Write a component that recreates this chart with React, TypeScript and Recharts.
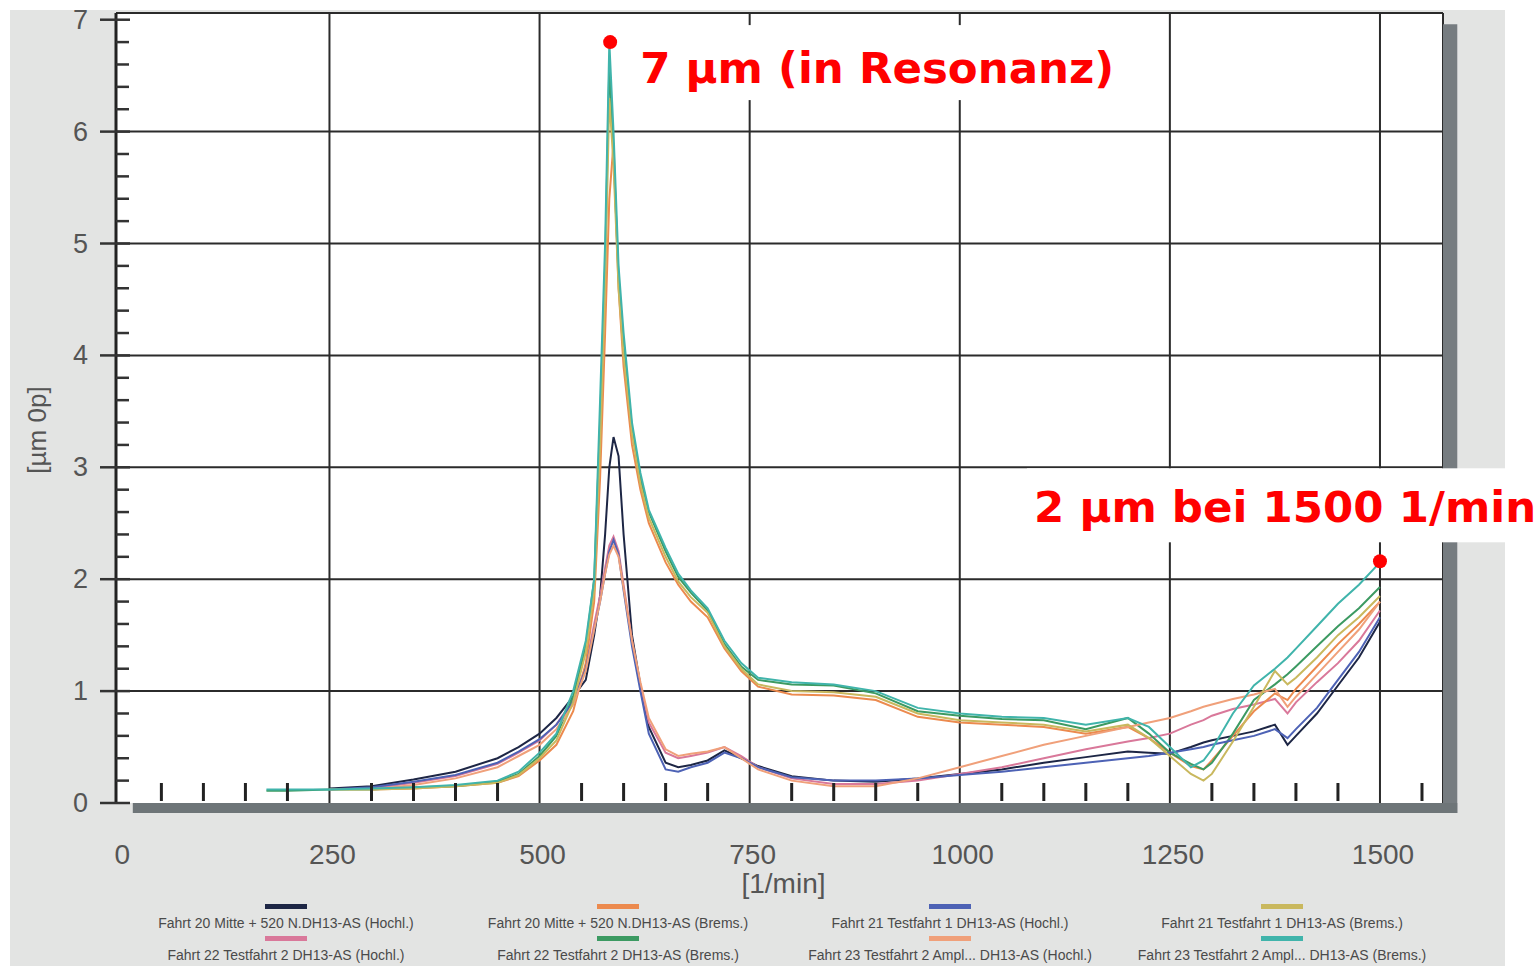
import React from 'react';
import {
  LineChart,
  Line,
  XAxis,
  YAxis,
  CartesianGrid,
  ReferenceArea,
  ReferenceDot,
  Legend,
  Label,
} from 'recharts';

// speed grid [1/min] shared by all runs
const rpm = [
  175, 200, 250, 300, 350, 400, 450, 475, 500, 520, 540, 555, 565, 572, 578, 583, 588, 594, 600, 610,
  620, 630, 650, 665, 680, 700, 720, 740, 760, 800, 850, 900, 950, 1000, 1050, 1100, 1150, 1200, 1225, 1250,
  1275, 1290, 1300, 1325, 1350, 1375, 1390, 1400, 1425, 1450, 1475, 1500,
];

// amplitudes [µm 0p]
const f20Hochl = [
  null, null, 0.13, 0.15, 0.21, 0.28, 0.4, 0.5, 0.62, 0.76, 0.95, 1.1, 1.5, 1.85, 2.4, 3.0, 3.27, 3.1, 2.4, 1.5,
  1.05, 0.68, 0.36, 0.32, 0.34, 0.38, 0.47, 0.4, 0.33, 0.24, 0.2, 0.19, 0.22, 0.26, 0.3, 0.36, 0.41, 0.46, 0.45, 0.44,
  0.5, 0.54, 0.56, 0.6, 0.64, 0.7, 0.52, 0.6, 0.8, 1.05, 1.3, 1.62,
];
const f22Hochl = [
  null, null, null, 0.13, 0.18, 0.24, 0.35, 0.45, 0.56, 0.7, 0.92, 1.22, 1.6, 1.85, 2.1, 2.3, 2.38, 2.25, 1.95, 1.45,
  1.05, 0.72, 0.45, 0.4, 0.42, 0.45, 0.5, 0.42, 0.32, 0.22, 0.17, 0.17, 0.2, 0.26, 0.32, 0.4, 0.48, 0.55, 0.58, 0.62,
  0.7, 0.74, 0.78, 0.84, 0.88, 0.93, 0.8, 0.9, 1.08, 1.25, 1.45, 1.72,
];
const f20Brems = [
  null, null, null, 0.12, 0.13, 0.15, 0.18, 0.24, 0.38, 0.52, 0.82, 1.25, 1.8, 2.9, 4.2, 5.4, 5.9, 4.6, 3.9, 3.2,
  2.8, 2.5, 2.15, 1.95, 1.8, 1.66, 1.38, 1.18, 1.04, 0.97, 0.96, 0.92, 0.77, 0.72, 0.7, 0.68, 0.62, 0.68, 0.58, 0.45,
  0.33, 0.3, 0.38, 0.6, 0.82, 0.98, 0.92, 1.02, 1.22, 1.42, 1.6, 1.8,
];
const f22Brems = [
  0.11, 0.11, 0.12, 0.12, 0.14, 0.15, 0.19, 0.26, 0.42, 0.6, 0.95, 1.4, 2.0, 3.4, 4.8, 6.6, 5.8, 4.7, 4.1, 3.35,
  2.9, 2.6, 2.25, 2.02, 1.88, 1.72, 1.42, 1.22, 1.1, 1.06, 1.05, 0.98, 0.82, 0.78, 0.75, 0.74, 0.66, 0.76, 0.62, 0.45,
  0.35, 0.3, 0.36, 0.62, 0.92, 1.06, 1.15, 1.22, 1.4, 1.58, 1.74, 1.93,
];
const f21Hochl = [
  null, null, 0.12, 0.14, 0.19, 0.25, 0.36, 0.46, 0.57, 0.7, 0.9, 1.2, 1.55, 1.8, 2.05, 2.25, 2.35, 2.22, 1.9, 1.4,
  1.0, 0.62, 0.3, 0.28, 0.32, 0.36, 0.45, 0.4, 0.32, 0.23, 0.2, 0.2, 0.22, 0.25, 0.28, 0.32, 0.36, 0.4, 0.42, 0.45,
  0.48, 0.5, 0.52, 0.56, 0.6, 0.66, 0.58, 0.66, 0.85, 1.1, 1.35, 1.66,
];
const f23Hochl = [
  null, null, null, 0.12, 0.16, 0.22, 0.32, 0.42, 0.52, 0.66, 0.88, 1.18, 1.55, 1.8, 2.05, 2.22, 2.3, 2.2, 1.92, 1.45,
  1.08, 0.76, 0.48, 0.42, 0.44, 0.46, 0.5, 0.4, 0.3, 0.2, 0.15, 0.15, 0.22, 0.32, 0.42, 0.52, 0.6, 0.68, 0.72, 0.76,
  0.82, 0.86, 0.88, 0.93, 0.97, 1.02, 0.86, 0.95, 1.15, 1.35, 1.55, 1.8,
];
const f21Brems = [
  null, null, 0.12, 0.12, 0.13, 0.15, 0.18, 0.25, 0.4, 0.56, 0.9, 1.35, 1.9, 3.2, 4.6, 6.3, 5.7, 4.6, 4.0, 3.3,
  2.85, 2.55, 2.2, 1.98, 1.84, 1.7, 1.4, 1.2, 1.06, 1.0, 0.99, 0.95, 0.8, 0.74, 0.72, 0.7, 0.64, 0.7, 0.58, 0.42,
  0.26, 0.2, 0.26, 0.55, 0.86, 1.18, 1.06, 1.12, 1.3, 1.5, 1.66, 1.85,
];
const f23Brems = [
  0.12, 0.12, 0.12, 0.13, 0.14, 0.16, 0.2, 0.28, 0.45, 0.62, 1.0, 1.45, 2.0, 3.6, 5.0, 6.8, 6.0, 4.8, 4.2, 3.4,
  2.95, 2.62, 2.28, 2.05, 1.9, 1.74, 1.45, 1.25, 1.12, 1.08, 1.06, 1.0, 0.85, 0.8, 0.77, 0.76, 0.7, 0.76, 0.68, 0.5,
  0.32, 0.38, 0.48, 0.8, 1.05, 1.2, 1.3, 1.38, 1.58, 1.78, 1.95, 2.15,
];

// legend order: column by column, two rows
const series = [
  { key: 'f20h', name: 'Fahrt 20  Mitte + 520 N.DH13-AS (Hochl.)', values: f20Hochl, color: '#1d2645' },
  { key: 'f22h', name: 'Fahrt 22 Testfahrt 2 DH13-AS (Hochl.)', values: f22Hochl, color: '#d9789a' },
  { key: 'f20b', name: 'Fahrt 20  Mitte + 520 N.DH13-AS (Brems.)', values: f20Brems, color: '#ec8a4e' },
  { key: 'f22b', name: 'Fahrt 22 Testfahrt 2 DH13-AS (Brems.)', values: f22Brems, color: '#3c9a62' },
  { key: 'f21h', name: 'Fahrt 21 Testfahrt 1 DH13-AS (Hochl.)', values: f21Hochl, color: '#4d62b5' },
  { key: 'f23h', name: 'Fahrt 23 Testfahrt 2  Ampl... DH13-AS (Hochl.)', values: f23Hochl, color: '#f0a07a' },
  { key: 'f21b', name: 'Fahrt 21 Testfahrt 1 DH13-AS (Brems.)', values: f21Brems, color: '#c9b85e' },
  { key: 'f23b', name: 'Fahrt 23 Testfahrt 2  Ampl... DH13-AS (Brems.)', values: f23Brems, color: '#40b4ab' },
];

const xMajor = [0, 250, 500, 750, 1000, 1250, 1500];
const yMajor = [0, 1, 2, 3, 4, 5, 6, 7];
const resonance = { rpm: 584, amp: 6.8, text: '7 µm (in Resonanz)' };
const endPoint = { rpm: 1500, amp: 2.16, text: '2 µm bei 1500 1/min' };

const rows = rpm.map((r, i) => {
  const row: Record<string, number | null> = { rpm: r };
  series.forEach((s) => (row[s.key] = s.values[i]));
  return row;
});

// minor ticks every 50 1/min and every 0.2 µm
const xTicks = Array.from({ length: 32 }, (_, i) => i * 50);
const yTicks = Array.from({ length: 36 }, (_, i) => Math.round(i * 2) / 10);

const tickFont = '"Liberation Sans", Arial, sans-serif';

const XTick = (props: any) => {
  const { x, y, payload } = props;
  const v = payload.value;
  if (xMajor.includes(v)) {
    return (
      <text x={x + 3} y={y + 61} textAnchor="middle" fontSize={28} fill="#555" fontFamily={tickFont}>
        {v}
      </text>
    );
  }
  return <line x1={x} x2={x} y1={y - 20} y2={y - 2} stroke="#222" strokeWidth={3} />;
};

const YTick = (props: any) => {
  const { x, y, payload } = props;
  const v = payload.value;
  if (yMajor.includes(v)) {
    return (
      <g>
        <line x1={x - 16} x2={x + 14} y1={y} y2={y} stroke="#333" strokeWidth={2.5} />
        <text x={x - 28} y={y + 9} textAnchor="end" fontSize={27} fill="#555" fontFamily={tickFont}>
          {v}
        </text>
      </g>
    );
  }
  return <line x1={x} x2={x + 13} y1={y} y2={y} stroke="#333" strokeWidth={2.5} />;
};

const LegendGrid = () => (
  <div
    style={{
      display: 'grid',
      gridTemplateColumns: 'repeat(4, 332px)',
      gridTemplateRows: '32px 32px',
      gridAutoFlow: 'column',
      fontFamily: tickFont,
    }}
  >
    {series.map((s) => (
      <div key={s.key} style={{ display: 'flex', flexDirection: 'column', alignItems: 'center' }}>
        <div style={{ width: 42, height: 5, background: s.color }} />
        <div style={{ fontSize: 14, color: '#4a4a4a', marginTop: 7, whiteSpace: 'nowrap', lineHeight: '15px' }}>
          {s.name}
        </div>
      </div>
    ))}
  </div>
);

const calloutFont = '"DejaVu Sans", Verdana, sans-serif';

const PeakCallout = (props: any) => {
  const vb = props.viewBox;
  const cx = vb.x + vb.width / 2;
  const cy = vb.y + vb.height / 2;
  return (
    <g>
      <rect x={cx + 14} y={cy - 17} width={495} height={75} fill="#fff" />
      <text x={cx + 30} y={cy + 41} fontSize={43.5} fontWeight="bold" fill="#ff0000" fontFamily={calloutFont}>
        {resonance.text}
      </text>
    </g>
  );
};

const EndCallout = (props: any) => {
  const vb = props.viewBox;
  const cx = vb.x + vb.width / 2;
  const cy = vb.y + vb.height / 2;
  return (
    <g>
      <rect x={cx - 353} y={cy - 93} width={520} height={74} fill="#fff" />
      <text x={cx - 346} y={cy - 39} fontSize={43.5} fontWeight="bold" fill="#ff0000" fontFamily={calloutFont}>
        {endPoint.text}
      </text>
    </g>
  );
};

const YLabel = (props: any) => {
  const vb = props.viewBox;
  const x = vb.x - 10;
  const y = vb.y + vb.height / 2 + 22;
  return (
    <text
      x={x}
      y={y}
      transform={`rotate(-90 ${x} ${y})`}
      textAnchor="middle"
      fontSize={26}
      fill="#555"
      fontFamily={tickFont}
    >
      [µm 0p]
    </text>
  );
};

export default function App() {
  return (
    <div style={{ position: 'absolute', left: 0, top: 0, width: 1537, height: 966, background: '#fff', overflow: 'hidden' }}>
      <div style={{ position: 'absolute', left: 10, top: 10, width: 1495, height: 956, background: '#e3e4e3' }} />
      <div style={{ position: 'absolute', left: 0, top: 0 }}>
        <LineChart width={1537} height={966} data={rows} margin={{ top: 13, right: 94, bottom: 103, left: 56 }}>
          <CartesianGrid
            fill="#fff"
            stroke="#2b2b2b"
            strokeWidth={2}
            horizontalValues={[1, 2, 3, 4, 5, 6, 7.06]}
            verticalValues={[250, 500, 750, 1000, 1250, 1500, 1575]}
          />
          <ReferenceArea x1={1575} x2={1592} y1={-0.09} y2={6.96} fill="#767c80" fillOpacity={1} stroke="none" ifOverflow="visible" />
          <ReferenceArea x1={16} x2={1592} y1={-0.09} y2={0} fill="#6e7578" fillOpacity={1} stroke="none" ifOverflow="visible" />
          <XAxis
            type="number"
            dataKey="rpm"
            domain={[-4, 1575]}
            ticks={xTicks}
            interval={0}
            tick={(p: any) => <XTick {...p} />}
            tickLine={false}
            axisLine={false}
            tickSize={0}
            tickMargin={0}
            height={60}
          >
            <Label value="[1/min]" position="bottom" offset={0} content={(p: any) => (
              <text x={p.viewBox.x + p.viewBox.width / 2 + 4} y={p.viewBox.y + 90} textAnchor="middle" fontSize={28} fill="#555" fontFamily={tickFont}>
                [1/min]
              </text>
            )} />
          </XAxis>
          <YAxis
            type="number"
            domain={[0, 7.06]}
            ticks={yTicks}
            interval={0}
            tick={(p: any) => <YTick {...p} />}
            tickLine={false}
            tickSize={0}
            tickMargin={0}
            axisLine={{ stroke: '#222', strokeWidth: 3 }}
            width={60}
          >
            <Label content={(p: any) => <YLabel {...p} />} />
          </YAxis>
          {series.map((s) => (
            <Line
              key={s.key}
              type="linear"
              dataKey={s.key}
              name={s.name}
              stroke={s.color}
              strokeWidth={2}
              dot={false}
              activeDot={false}
              isAnimationActive={false}
            />
          ))}
          <ReferenceDot x={resonance.rpm} y={resonance.amp} r={7} fill="#ff0000" stroke="none" ifOverflow="visible" label={(p: any) => <PeakCallout {...p} />} />
          <ReferenceDot x={endPoint.rpm} y={endPoint.amp} r={7} fill="#ff0000" stroke="none" ifOverflow="visible" label={(p: any) => <EndCallout {...p} />} />
          <Legend
            layout="horizontal"
            verticalAlign="middle"
            align="center"
            content={() => <LegendGrid />}
            wrapperStyle={{ position: 'absolute', top: 904, left: 120, width: 1328, height: 64 }}
          />
        </LineChart>
      </div>
    </div>
  );
}
